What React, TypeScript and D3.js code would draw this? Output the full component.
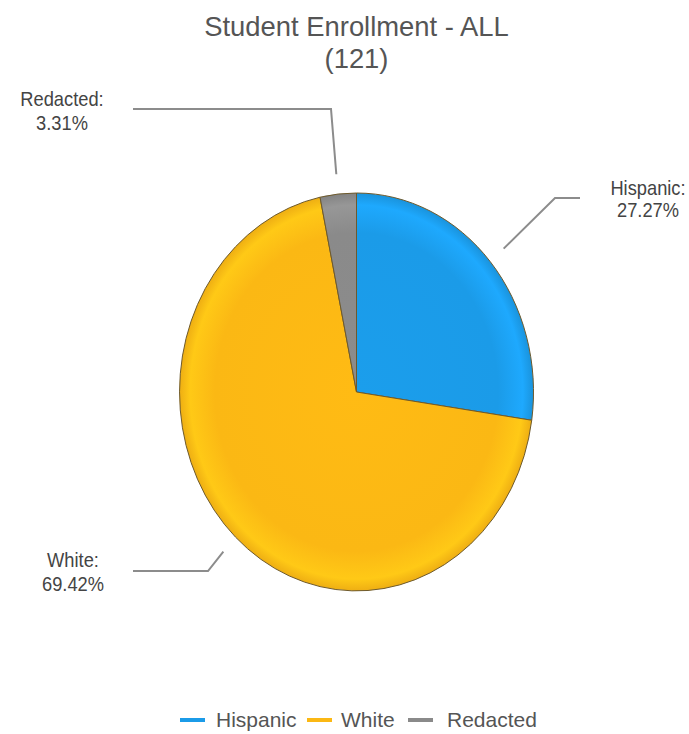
import React from "react";
import * as d3 from "d3";

const categories = ["Hispanic", "White", "Redacted"];
const counts = [33, 84, 4];
const colors = ["#1b9be8", "#fbb814", "#8a8a8a"];
const titleLines = ["Student Enrollment - ALL", "(121)"];

const W = 689;
const H = 734;
const cx = 356.5;
const cy = 392;
const rx = 177;
const ry = 199;
const FONT = "Liberation Sans, Arial, sans-serif";

// label layout: elbow point, line end, text anchor, baselines
const labelLayout = [
  { elbow: [555, 198], end: [580, 198], tx: 648, ty: 195, ty2: 217 },
  { elbow: [208, 571], end: [133, 571], tx: 73, ty: 567, ty2: 591 },
  { elbow: [331, 109], end: [133, 109], tx: 62, ty: 106, ty2: 130 },
];

function SText(props: {
  x: number;
  y: number;
  k: number;
  size: number;
  anchor?: string;
  fill: string;
  children: React.ReactNode;
}) {
  return (
    <text
      transform={`translate(${props.x},${props.y}) scale(1,${props.k})`}
      textAnchor={props.anchor || "start"}
      fontFamily={FONT}
      fontSize={props.size}
      fill={props.fill}
    >
      {props.children}
    </text>
  );
}

export default function App() {
  const total = d3.sum(counts);
  const pie = d3
    .pie<number>()
    .sort(null)
    .value((d) => d)
    .startAngle(0)
    .endAngle(2 * Math.PI);
  const arcs = pie(counts);
  const arc = d3.arc<d3.PieArcDatum<number>>().innerRadius(0).outerRadius(1);
  const fmt = d3.format(".2f");

  const legendItems = [
    { x: 180, tx: 216 },
    { x: 307, tx: 341 },
    { x: 408, tx: 447 },
  ];

  return (
    <svg width={W} height={H} style={{ display: "block", position: "absolute", left: 0, top: 0 }}>
      <defs>
        {colors.map((c, i) => (
          <radialGradient key={i} id={`g${i}`} cx="0" cy="0" r="1" gradientUnits="userSpaceOnUse">
            <stop offset="0%" stopColor={d3.color(c)!.brighter(0.05).toString()} />
            <stop offset="80%" stopColor={c} />
            <stop offset="94%" stopColor={d3.color(c)!.brighter(0.25).toString()} />
            <stop offset="100%" stopColor={d3.color(c)!.darker(0.15).toString()} />
          </radialGradient>
        ))}
      </defs>
      <rect width={W} height={H} fill="#ffffff" />
      {titleLines.map((t, i) => (
        <SText key={i} x={cx} y={36 + i * 32} k={1.0} size={27.4} anchor="middle" fill="#555555">
          {t}
        </SText>
      ))}
      <g transform={`translate(${cx},${cy}) scale(${rx},${ry})`}>
        {arcs.map((a, i) => (
          <path
            key={i}
            d={arc(a) || ""}
            fill={`url(#g${i})`}
            stroke="#6e5a2c"
            strokeWidth={1}
            vectorEffect="non-scaling-stroke"
          />
        ))}
      </g>
      {arcs.map((a, i) => {
        const mid = (a.startAngle + a.endAngle) / 2;
        const sx = cx + rx * 1.1 * Math.sin(mid);
        const sy = cy - ry * 1.1 * Math.cos(mid);
        const L = labelLayout[i];
        return (
          <g key={i}>
            <polyline
              points={`${sx},${sy} ${L.elbow[0]},${L.elbow[1]} ${L.end[0]},${L.end[1]}`}
              fill="none"
              stroke="#8c8c8c"
              strokeWidth={2}
            />
            <SText x={L.tx} y={L.ty} k={1.1} size={18.3} anchor="middle" fill="#444444">
              {categories[i]}:
            </SText>
            <SText x={L.tx} y={L.ty2} k={1.1} size={18.3} anchor="middle" fill="#444444">
              {fmt((counts[i] / total) * 100)}%
            </SText>
          </g>
        );
      })}
      {categories.map((c, i) => (
        <g key={c}>
          <line
            x1={legendItems[i].x}
            x2={legendItems[i].x + 25}
            y1={720}
            y2={720}
            stroke={colors[i]}
            strokeWidth={4}
          />
          <SText x={legendItems[i].tx} y={727} k={1.0} size={21} fill="#555555">
            {c}
          </SText>
        </g>
      ))}
    </svg>
  );
}
